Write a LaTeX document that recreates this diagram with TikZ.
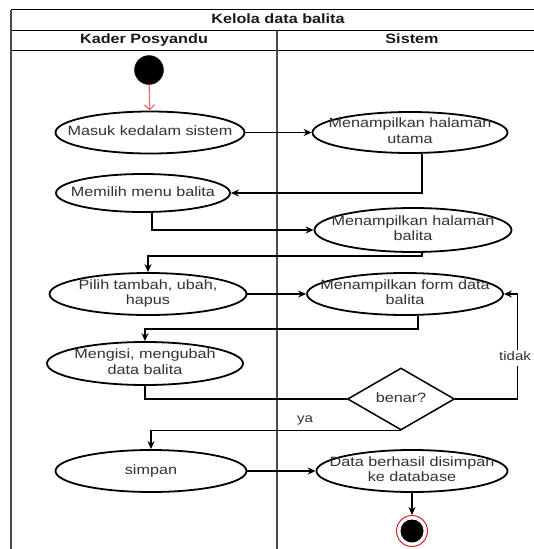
\documentclass[tikz,border=0pt]{standalone}
\usepackage{fontspec}
\setmainfont{Liberation Sans}
\usepackage{graphicx}
\usepackage{tikz}
\definecolor{txtgray}{RGB}{50,50,50}
\definecolor{headgray}{RGB}{25,25,25}
\definecolor{lanegray}{RGB}{75,75,75}
\definecolor{initred}{RGB}{226,110,110}
\definecolor{endred}{RGB}{214,40,40}
\usetikzlibrary{shapes.geometric}
\usetikzlibrary{arrows.meta}
\pgfdeclarelayer{edgelayer}
\pgfdeclarelayer{nodelayer}
\pgfsetlayers{edgelayer,nodelayer,main}
\newcommand{\wtxt}[1]{\scalebox{1.2}[1]{\begin{tabular}{@{}c@{}}#1\end{tabular}}}
\tikzstyle{act}=[ellipse,draw=black,fill=white,line width=1.8pt,inner sep=0pt,minimum width=192pt,minimum height=42pt]
\tikzstyle{decision}=[diamond,draw=black,fill=white,line width=1.5pt,inner sep=0pt,minimum width=107pt,minimum height=62pt]
\tikzstyle{txt}=[text=txtgray,font=\fontsize{13.5}{15.5}\selectfont,inner sep=0pt]
\tikzstyle{head}=[text=headgray,font=\bfseries\fontsize{13.5}{15.5}\selectfont,inner sep=0pt]
\tikzstyle{guard}=[text=txtgray,font=\fontsize{12.5}{14}\selectfont,fill=white,inner sep=1pt]
\tikzstyle{initial}=[circle,fill=black,draw=black!80!red,minimum size=29pt,inner sep=0pt]
\tikzstyle{final}=[circle,draw=endred,fill=white,line width=1pt,minimum size=31pt,inner sep=0pt,
  path picture={\fill[black] (path picture bounding box.center) circle (11.5pt);}]
\tikzstyle{flow}=[-{Stealth[length=8pt,width=7pt]},line width=1.2pt]
\tikzstyle{lane}=[line width=1.2pt]

\begin{document}
\begin{tikzpicture}[x=1pt,y=-1pt]
    \useasboundingbox (0,0) rectangle (533,549);
            \begin{pgfonlayer}{nodelayer}
            \node [style = head] (title) at (278, 20) {\wtxt{Kelola data balita}};
            \node [style = head] (lane1) at (144, 40.5) {\wtxt{Kader Posyandu}};
            \node [style = head] (lane2) at (412, 40.5) {\wtxt{Sistem}};

            \node [style = initial] (start) at (149, 70) {};

            \node [style = act, minimum width=189pt, label={[txt]center:\wtxt{Masuk kedalam sistem}}] (masuk) at (150, 132.5) {};
            \node [style = act, minimum width=195pt, minimum height=41pt, label={[txt]center:\wtxt{Menampilkan halaman\\utama}}] (utama) at (410, 132.5) {};

            \node [style = act, minimum width=174pt, minimum height=38pt, label={[txt]center:\wtxt{Memilih menu balita}}] (memilih) at (143, 193) {};
            \node [style = act, minimum width=197pt, minimum height=44pt, label={[txt]center:\wtxt{Menampilkan halaman\\balita}}] (balita) at (413, 230) {};

            \node [style = act, minimum width=197pt, label={[txt]center:\wtxt{Pilih tambah, ubah,\\hapus}}] (pilih) at (148, 294) {};
            \node [style = act, minimum width=196pt, label={[txt]center:\wtxt{Menampilkan form data\\balita}}] (form) at (405, 294) {};

            \node [style = act, minimum width=196pt, minimum height=43pt, label={[txt]center:\wtxt{Mengisi, mengubah\\data balita}}] (mengisi) at (145, 363.5) {};
            \node [style = decision, label={[txt]center:\wtxt{benar?}}] (benar) at (401, 399) {};

            \node [style = act, minimum width=191pt, label={[txt]center:\wtxt{simpan}}] (simpan) at (151, 471) {};
            \node [style = act, minimum width=191pt, label={[txt]center:\wtxt{Data berhasil disimpan\\ke database}}] (data) at (412, 471) {};

            \node [style = final] (end) at (412, 531) {};

            \node [style = guard] (tidak) at (515, 358) {\wtxt{tidak}};
            \node [style = guard, fill=none] (ya) at (305, 420) {\wtxt{ya}};
            \end{pgfonlayer}

        \begin{pgfonlayer}{edgelayer}
            % swimlane frame
            \draw [style = lane] (11, 9.5) -- (546, 9.5);
            \draw [style = lane] (11, 30.5) -- (546, 30.5);
            \draw [style = lane] (11, 50.5) -- (546, 50.5);
            \draw [style = lane, draw=lanegray] (11, 9.5) -- (11, 560);
            \draw [style = lane, draw=lanegray] (277, 30.5) -- (277, 560);
            \draw [style = lane, draw=lanegray] (546, 9.5) -- (546, 560);

            \draw [-{Straight Barb[length=5pt,width=10pt]}, line width=1.2pt, draw=initred] (start) to (masuk);
            \draw [style = flow] (masuk) to (utama);
            \draw [style = flow] ([xshift=12pt]utama.south) |- (memilih.east);
            \draw [style = flow] ([xshift=9pt]memilih.south) |- (balita.west);
            \draw [style = flow] ([xshift=9pt]balita.south) -- ++(0, 3) -| (pilih.north);
            \draw [style = flow] (pilih) to (form);
            \draw [style = flow] ([xshift=13pt]form.south) -- ++(0, 13) -| (mengisi.north);
            \draw [line width=1.2pt] (mengisi.south) |- (benar.west);
            \draw [style = flow] (benar.east) -- ++(62, 0) |- (form.east);
            \draw [style = flow] (benar.south) -| (simpan.north);
            \draw [style = flow] (simpan) to (data);
            \draw [style = flow] (data) to (end);
        \end{pgfonlayer}
    \end{tikzpicture}
\end{document}
